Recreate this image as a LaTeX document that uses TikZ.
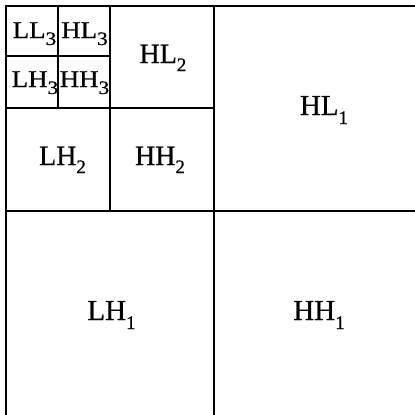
\documentclass[tikz,border=0pt]{standalone}
\usepackage{fontspec}
\setmainfont{Liberation Serif}
\newfontfamily\lblfont[FakeBold=0.6]{Liberation Serif}
\newfontfamily\lblwide[FakeBold=0.6,FakeStretch=1.12]{Liberation Serif}
% subscript: #1 size, #2 drop, #3 text
\newcommand\sbs[3]{\raisebox{-#2pt}{\fontsize{#1}{#1}\selectfont #3}}
\newcommand\subA[1]{\sbs{19}{9}{#1}}
\newcommand\subB[1]{\sbs{19}{8}{#1}}
\newcommand\subC[1]{\sbs{19}{7}{#1}}
\tikzset{
  grid line/.style={line width=2pt, black},
  lblA/.style={anchor=base, inner sep=0pt, font=\lblfont\fontsize{29}{29}\selectfont},
  lblB/.style={anchor=base, inner sep=0pt, font=\lblfont\fontsize{28}{28}\selectfont},
  lblC/.style={anchor=base, inner sep=0pt, font=\lblwide\fontsize{24}{24}\selectfont}
}
\begin{document}
\begin{tikzpicture}[x=1pt,y=-1pt]
\useasboundingbox (0,0) rectangle (415,415);
\clip (0,0) rectangle (415,415);
\fill[white] (0,0) rectangle (415,415);
% outer frame (right and bottom edges lie outside the visible area)
\draw[grid line] (6,420) -- (6,6) -- (420,6);
% level 1
\draw[grid line] (213.5,6) -- (213.5,420);
\draw[grid line] (6,210.5) -- (420,210.5);
% level 2
\draw[grid line] (110.3,6) -- (110.3,210.5);
\draw[grid line] (6,108.3) -- (213.5,108.3);
% level 3
\draw[grid line] (58.3,6) -- (58.3,108.3);
\draw[grid line] (6,56) -- (110.3,56);
% labels
\node[lblA] (hl1) at (324,115) {HL\subA{1}};
\node[lblA] (lh1) at (111.5,320) {LH\subA{1}};
\node[lblA] (hh1) at (319,320) {HH\subA{1}};
\node[lblB] (hl2) at (163,63) {HL\subB{2}};
\node[lblB] (lh2) at (62.5,165) {LH\subB{2}};
\node[lblB] (hh2) at (160,165) {HH\subB{2}};
\node[lblC] (ll3) at (34.5,38) {LL\subC{3}};
\node[lblC] (hl3) at (84.5,38) {HL\subC{3}};
\node[lblC] (lh3) at (35,87) {LH\subC{3}};
\node[lblC] (hh3) at (84.5,87) {HH\subC{3}};
\end{tikzpicture}
\end{document}
